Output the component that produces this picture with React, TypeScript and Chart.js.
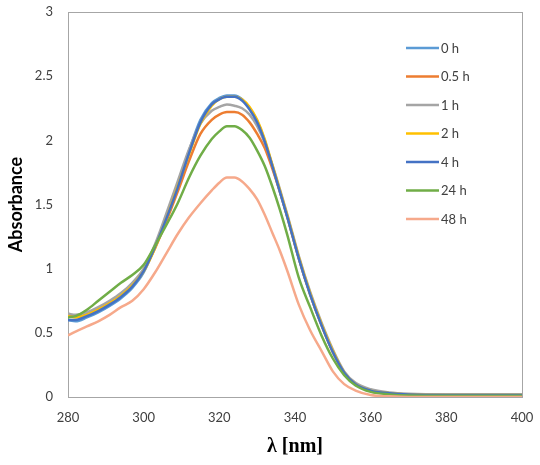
import React, { useEffect, useRef } from "react";
import { Chart, registerables } from "chart.js";

Chart.register(...registerables);

const wavelengths = [280, 282, 285, 288, 291, 294, 297, 300, 303, 306, 309, 312, 315, 318, 320, 322, 324, 326, 328, 330, 332, 334, 336, 338, 341, 344, 347, 350, 353, 356, 360, 365, 370, 380, 390, 400];

const seriesLabels = ["0 h", "0.5 h", "1 h", "2 h", "4 h", "24 h", "48 h"];
const seriesColors = ["#5B9BD5", "#ED7D31", "#A5A5A5", "#FFC000", "#4472C4", "#70AD47", "#F6A98B"];

const h0 = [0.60, 0.59, 0.62, 0.66, 0.71, 0.77, 0.85, 0.97, 1.17, 1.40, 1.65, 1.92, 2.16, 2.29, 2.33, 2.35, 2.35, 2.32, 2.25, 2.15, 2.00, 1.80, 1.60, 1.40, 1.08, 0.80, 0.56, 0.35, 0.19, 0.10, 0.05, 0.03, 0.02, 0.015, 0.015, 0.015];
const h05 = [0.63, 0.63, 0.65, 0.69, 0.74, 0.80, 0.88, 0.99, 1.16, 1.37, 1.60, 1.84, 2.05, 2.16, 2.20, 2.22, 2.22, 2.20, 2.14, 2.05, 1.94, 1.78, 1.60, 1.40, 1.08, 0.80, 0.56, 0.35, 0.19, 0.10, 0.05, 0.03, 0.02, 0.015, 0.015, 0.015];
const h1 = [0.65, 0.64, 0.66, 0.70, 0.75, 0.81, 0.89, 1.00, 1.19, 1.43, 1.68, 1.93, 2.13, 2.23, 2.26, 2.28, 2.27, 2.25, 2.20, 2.11, 1.98, 1.81, 1.62, 1.42, 1.10, 0.82, 0.58, 0.37, 0.20, 0.11, 0.06, 0.035, 0.025, 0.02, 0.02, 0.02];
const h2 = [0.63, 0.62, 0.64, 0.68, 0.73, 0.79, 0.87, 0.98, 1.16, 1.39, 1.64, 1.89, 2.13, 2.27, 2.32, 2.34, 2.34, 2.32, 2.26, 2.16, 2.01, 1.81, 1.61, 1.41, 1.09, 0.81, 0.57, 0.36, 0.19, 0.10, 0.05, 0.03, 0.02, 0.015, 0.015, 0.015];
const h4 = [0.60, 0.60, 0.63, 0.67, 0.72, 0.78, 0.86, 0.98, 1.17, 1.39, 1.63, 1.90, 2.14, 2.28, 2.32, 2.34, 2.34, 2.31, 2.24, 2.14, 1.99, 1.80, 1.60, 1.40, 1.08, 0.80, 0.56, 0.35, 0.19, 0.10, 0.05, 0.03, 0.02, 0.015, 0.015, 0.015];
const h24 = [0.62, 0.63, 0.68, 0.75, 0.82, 0.89, 0.95, 1.03, 1.18, 1.34, 1.51, 1.71, 1.88, 2.01, 2.07, 2.11, 2.11, 2.08, 2.02, 1.92, 1.80, 1.64, 1.46, 1.26, 0.93, 0.70, 0.48, 0.30, 0.17, 0.09, 0.04, 0.02, 0.012, 0.01, 0.01, 0.01];
const h48 = [0.48, 0.51, 0.55, 0.59, 0.64, 0.70, 0.75, 0.84, 0.97, 1.12, 1.27, 1.40, 1.51, 1.61, 1.67, 1.71, 1.71, 1.68, 1.62, 1.54, 1.42, 1.28, 1.14, 0.98, 0.72, 0.52, 0.36, 0.20, 0.10, 0.05, 0.015, 0.005, 0.0, 0.0, 0.0, 0.0];

const seriesValues = [h0, h05, h1, h2, h4, h24, h48];

const xTicks = [280, 300, 320, 340, 360, 380, 400];
const yTicks = [0, 0.5, 1, 1.5, 2, 2.5, 3];

const FONT = "Lato, 'Open Sans', 'Liberation Sans', sans-serif";
const TEXT_COLOR = "#404040";
const FRAME_COLOR = "#A6A6A6";

const framePlugin = {
  id: "plotFrame",
  beforeDatasetsDraw(chart: any) {
    const { ctx, chartArea } = chart;
    ctx.save();
    ctx.strokeStyle = FRAME_COLOR;
    ctx.lineWidth = 1;
    ctx.strokeRect(
      Math.round(chartArea.left) + 0.5,
      Math.round(chartArea.top) + 0.5,
      Math.round(chartArea.right - chartArea.left),
      Math.round(chartArea.bottom - chartArea.top)
    );
    ctx.restore();
  },
};

const legendPlugin = {
  id: "insideLegend",
  afterDraw(chart: any) {
    const { ctx } = chart;
    const x0 = 406;
    const lineLen = 33;
    const y0 = 48;
    const step = 28.5;
    ctx.save();
    ctx.font = `13px ${FONT}`;
    ctx.textBaseline = "middle";
    ctx.textAlign = "left";
    chart.data.datasets.forEach((ds: any, i: number) => {
      const y = y0 + i * step;
      ctx.strokeStyle = ds.borderColor;
      ctx.lineWidth = 2.5;
      ctx.beginPath();
      ctx.moveTo(x0, y);
      ctx.lineTo(x0 + lineLen, y);
      ctx.stroke();
      ctx.fillStyle = TEXT_COLOR;
      ctx.fillText(ds.label, x0 + lineLen + 2, y + 0.5);
    });
    ctx.restore();
  },
};

export default function App() {
  const canvasRef = useRef<HTMLCanvasElement | null>(null);

  useEffect(() => {
    if (!canvasRef.current) return;
    const datasets = seriesLabels.map((label, i) => ({
      label,
      data: wavelengths.map((x, j) => ({ x, y: seriesValues[i][j] })),
      borderColor: seriesColors[i],
      backgroundColor: seriesColors[i],
      borderWidth: 2.5,
      pointRadius: 0,
      pointHoverRadius: 0,
      tension: 0.4,
      cubicInterpolationMode: "monotone" as const,
      fill: false,
      order: -i,
    }));

    const chart = new Chart(canvasRef.current, {
      type: "line",
      data: { datasets },
      options: {
        animation: false,
        responsive: false,
        maintainAspectRatio: false,
        layout: { padding: { left: 0, top: 12, right: 18, bottom: 0 } },
        plugins: {
          legend: { display: false },
          tooltip: { enabled: false },
        },
        scales: {
          x: {
            type: "linear",
            min: 280,
            max: 400,
            afterBuildTicks: (scale: any) => {
              scale.ticks = xTicks.map((v) => ({ value: v }));
            },
            afterFit: (scale: any) => {
              scale.height = 68;
              scale.paddingLeft = 0;
              scale.paddingRight = 0;
            },
            grid: { display: false, drawTicks: false },
            border: { display: false },
            ticks: {
              padding: 13,
              color: TEXT_COLOR,
              font: { family: FONT, size: 13 },
              maxRotation: 0,
              autoSkip: false,
              callback: (v: any) => String(v),
            },
            title: {
              display: true,
              text: "λ [nm]",
              color: "#000000",
              font: { family: "'Liberation Serif', 'DejaVu Serif', serif", size: 20, weight: "bold" },
              padding: { top: 0, bottom: 6 },
            },
          },
          y: {
            type: "linear",
            min: 0,
            max: 3,
            afterBuildTicks: (scale: any) => {
              scale.ticks = yTicks.map((v) => ({ value: v }));
            },
            afterFit: (scale: any) => {
              scale.width = 68;
              scale.paddingTop = 0;
              scale.paddingBottom = 0;
            },
            grid: { display: false, drawTicks: false },
            border: { display: false },
            ticks: {
              padding: 15,
              color: TEXT_COLOR,
              font: { family: FONT, size: 13 },
              autoSkip: false,
              callback: (v: any) => String(v),
            },
            title: {
              display: true,
              text: "Absorbance",
              color: "#000000",
              font: { family: FONT, size: 18, weight: "bold" },
              padding: { top: 5, bottom: 0 },
            },
          },
        },
      },
      plugins: [framePlugin, legendPlugin],
    });

    return () => {
      chart.destroy();
    };
  }, []);

  return (
    <div style={{ position: "fixed", left: 0, top: 0, width: 540, height: 465, background: "#ffffff" }}>
      <canvas ref={canvasRef} width={540} height={465} style={{ display: "block" }} />
    </div>
  );
}
